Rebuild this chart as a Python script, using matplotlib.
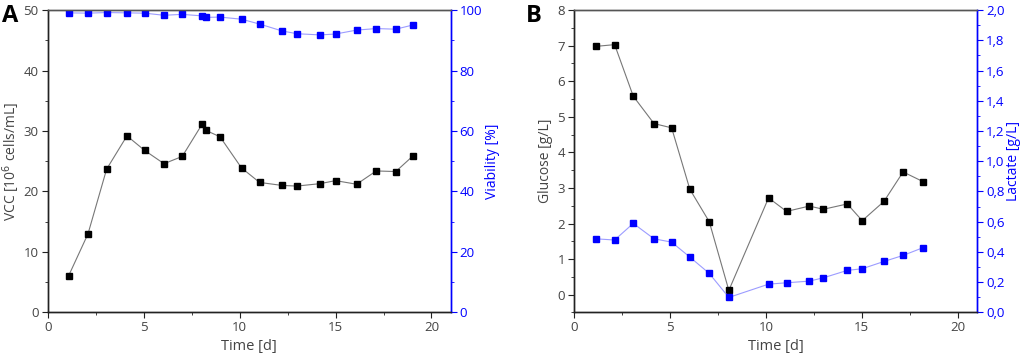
import matplotlib.pyplot as plt
from matplotlib.ticker import MultipleLocator, FuncFormatter

plt.rcParams['font.family'] = ['Open Sans', 'DejaVu Sans']

# panel A: viable cell count and viability
t_a = [1.09, 2.1, 3.07, 4.13, 5.05, 6.06, 7.01, 8.04, 8.25, 8.98, 10.1, 11.04,
       12.22, 12.99, 14.2, 15.0, 16.1, 17.12, 18.14, 19.04]
vcc = [6.06, 13.0, 23.7, 29.2, 26.8, 24.6, 25.8, 31.1, 30.1, 29.05, 23.9, 21.5,
       21.0, 20.9, 21.3, 21.8, 21.2, 23.4, 23.3, 25.9]
viability = [99.1, 99.0, 99.2, 99.1, 99.0, 98.3, 98.6, 98.1, 97.6, 97.7, 97.0, 95.4,
             93.1, 92.2, 91.8, 92.1, 93.4, 93.9, 93.7, 95.1]

# panel B: glucose and lactate
t_b = [1.13, 2.12, 3.09, 4.17, 5.09, 6.04, 7.05, 8.07, 10.14, 11.08, 12.26, 13.0,
       14.24, 15.02, 16.15, 17.15, 18.18]
glucose = [6.98, 7.03, 5.58, 4.81, 4.69, 2.96, 2.05, 0.12, 2.72, 2.34, 2.49, 2.40,
           2.55, 2.08, 2.62, 3.45, 3.18]
lactate = [0.487, 0.479, 0.589, 0.487, 0.465, 0.366, 0.258, 0.099, 0.187, 0.196,
           0.207, 0.229, 0.278, 0.289, 0.337, 0.377, 0.428]

BLUE = '#0000ff'
LBLUE = '#9c9cff'
TXT = '#444444'


def style(ax, ax2):
    for a in (ax, ax2):
        a.spines['top'].set_color('#555555')
        a.spines['left'].set_color('#222222')
        a.spines['bottom'].set_color('#222222')
        a.spines['right'].set_color(BLUE)
        for s in a.spines.values():
            s.set_linewidth(1.0)
    ax.tick_params(axis='both', which='both', direction='out', colors='#222222',
                   labelcolor=TXT, labelsize=9.5, pad=2.5)
    ax.tick_params(which='major', length=4)
    ax.tick_params(which='minor', length=2.5)
    ax2.tick_params(axis='y', which='both', direction='out', colors=BLUE,
                    labelcolor=BLUE, labelsize=9.5, pad=2.5)
    ax2.tick_params(which='major', length=4)
    ax2.tick_params(which='minor', length=2.5)
    ax.set_xlim(0, 21)
    ax.xaxis.set_major_locator(MultipleLocator(5))
    ax.xaxis.set_minor_locator(MultipleLocator(2.5))
    ax.set_xlabel('Time [d]', color=TXT, fontsize=10.5, labelpad=3)


fig = plt.figure(figsize=(10.24, 3.62), dpi=100)

axA = fig.add_axes([0.0466, 0.137, 0.3935, 0.835])
axA2 = axA.twinx()
axA.plot(t_a, vcc, color='#777777', lw=0.8, marker='s', ms=4.2,
         mfc='black', mec='black')
axA2.plot(t_a, viability, color=LBLUE, lw=0.8, marker='s', ms=4.2,
          mfc=BLUE, mec=BLUE)
axA.set_ylim(0, 50)
axA2.set_ylim(0, 100)
axA.yaxis.set_major_locator(MultipleLocator(10))
axA.yaxis.set_minor_locator(MultipleLocator(5))
axA2.yaxis.set_major_locator(MultipleLocator(20))
axA2.yaxis.set_minor_locator(MultipleLocator(10))
axA.set_ylabel('VCC [10$^6$ cells/mL]', color=TXT, fontsize=10, labelpad=1)
axA2.set_ylabel('Viability [%]', color=BLUE, fontsize=10, labelpad=2)
style(axA, axA2)

axB = fig.add_axes([0.5605, 0.137, 0.3936, 0.835])
axB2 = axB.twinx()
axB.plot(t_b, glucose, color='#777777', lw=0.8, marker='s', ms=4.2,
         mfc='black', mec='black')
axB2.plot(t_b, lactate, color=LBLUE, lw=0.8, marker='s', ms=4.2,
          mfc=BLUE, mec=BLUE)
axB.set_ylim(-0.5, 8)
axB2.set_ylim(0, 2.0)
axB.set_yticks(range(0, 9))
axB.yaxis.set_minor_locator(MultipleLocator(0.5))
axB2.yaxis.set_major_locator(MultipleLocator(0.2))
axB2.yaxis.set_minor_locator(MultipleLocator(0.1))
axB2.yaxis.set_major_formatter(FuncFormatter(lambda v, p: f'{v:.1f}'.replace('.', ',')))
axB.set_ylabel('Glucose [g/L]', color=TXT, fontsize=10, labelpad=3)
axB2.set_ylabel('Lactate [g/L]', color=BLUE, fontsize=10, labelpad=1)
style(axB, axB2)

fig.text(0.002, 0.99, 'A', fontsize=17, fontweight='bold', va='top', ha='left')
fig.text(0.514, 0.99, 'B', fontsize=17, fontweight='bold', va='top', ha='left')

fig.savefig('out.png', dpi=100)
